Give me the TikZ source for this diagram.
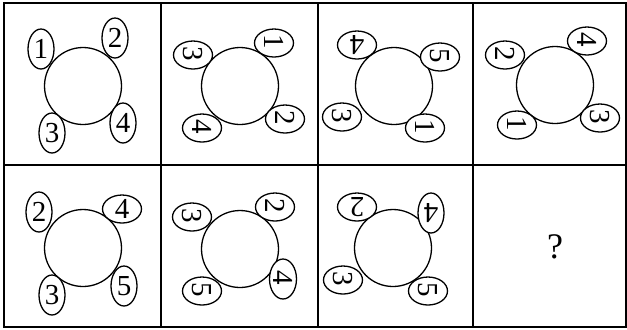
\documentclass[tikz,border=0pt]{standalone}
\usepackage{fontspec}
\setmainfont{Liberation Serif}
\usetikzlibrary{shapes.geometric}

\newcommand{\digrot}[2]{\rotatebox[origin=c]{#1}{#2}}

\begin{document}
\begin{tikzpicture}[x=0.5pt,y=-0.5pt,line width=0.65pt]
    \tikzstyle{ring}=[circle,draw,minimum size=38.5pt,inner sep=0pt]
    \tikzstyle{vpip}=[ellipse,draw,fill=white,minimum width=13pt,minimum height=20pt,inner sep=0pt,font=\fontsize{14.5}{14.5}\selectfont]
    \tikzstyle{hpip}=[vpip,minimum width=19.5pt,minimum height=14pt]
    \useasboundingbox (0,0) rectangle (627,329);
    % grid
    \draw[line width=1.1pt] (4,3) rectangle (626,327);
    \draw[line width=1.1pt] (4,165) -- (626,165);
    \foreach \x in {161,318,473}
      \draw[line width=1.1pt] (\x,3) -- (\x,327);
    % row 1
    \begin{scope}[shift={(83,86)}]
      \node[ring] (o_1) at (0,0) {};
      \node[vpip] (p_1_1) at (-42,-37) {1};
      \node[vpip] (p_1_2) at (32,-48) {2};
      \node[vpip] (p_1_3) at (-31,47) {3};
      \node[vpip] (p_1_4) at (40,37) {4};
    \end{scope}
    \begin{scope}[shift={(240,86)}]
      \node[ring] (o_2) at (0,0) {};
      \node[hpip] (p_2_3) at (-47,-31) {\digrot{-90}{3}};
      \node[hpip] (p_2_1) at (34,-43) {\digrot{-90}{1}};
      \node[hpip] (p_2_4) at (-38,42) {\digrot{-90}{4}};
      \node[hpip] (p_2_2) at (45,33) {\digrot{-90}{2}};
    \end{scope}
    \begin{scope}[shift={(394,86)}]
      \node[ring] (o_3) at (0,0) {};
      \node[hpip] (p_3_4) at (-37,-41) {\digrot{180}{4}};
      \node[hpip] (p_3_5) at (46,-29) {\digrot{-90}{5}};
      \node[hpip] (p_3_3) at (-52,31) {\digrot{-90}{3}};
      \node[hpip] (p_3_1) at (31,42) {\digrot{-90}{1}};
    \end{scope}
    \begin{scope}[shift={(555,85)}]
      \node[ring] (o_4) at (0,0) {};
      \node[hpip] (p_4_2) at (-50,-30) {\digrot{-90}{2}};
      \node[hpip] (p_4_4) at (32,-44) {\digrot{-90}{4}};
      \node[hpip] (p_4_1) at (-38,40) {\digrot{-90}{1}};
      \node[hpip] (p_4_3) at (45,33) {\digrot{-90}{3}};
    \end{scope}
    % row 2
    \begin{scope}[shift={(83,248)}]
      \node[ring] (o_5) at (0,0) {};
      \node[vpip] (p_5_2) at (-44,-36) {2};
      \node[hpip] (p_5_4) at (39,-39) {4};
      \node[vpip] (p_5_3) at (-31,47) {3};
      \node[vpip] (p_5_5) at (41,38) {5};
    \end{scope}
    \begin{scope}[shift={(240,249)}]
      \node[ring] (o_6) at (0,0) {};
      \node[hpip] (p_6_3) at (-48,-32) {\digrot{-90}{3}};
      \node[hpip] (p_6_2) at (35,-42) {\digrot{-90}{2}};
      \node[hpip] (p_6_5) at (-38,42) {\digrot{-90}{5}};
      \node[vpip] (p_6_4) at (43,30) {\digrot{-90}{4}};
    \end{scope}
    \begin{scope}[shift={(393,248)}]
      \node[ring] (o_7) at (0,0) {};
      \node[hpip] (p_7_2) at (-36,-41) {\digrot{180}{2}};
      \node[vpip] (p_7_4) at (38,-35) {\digrot{180}{4}};
      \node[hpip] (p_7_3) at (-50,32) {\digrot{-90}{3}};
      \node[hpip] (p_7_5) at (35,43) {\digrot{-90}{5}};
    \end{scope}
    \node[font=\fontsize{18}{18}\selectfont] (q) at (555,247) {?};
  \end{tikzpicture}
\end{document}
